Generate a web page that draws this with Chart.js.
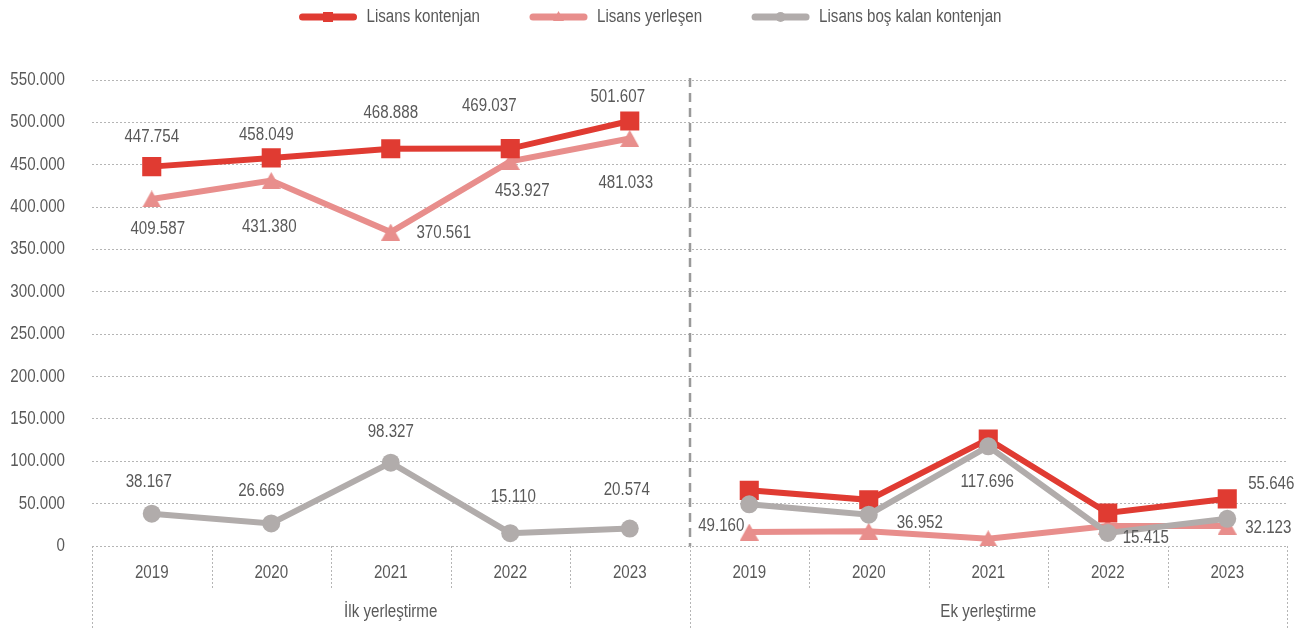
<!DOCTYPE html>
<html>
<head>
<meta charset="utf-8">
<script src="https://cdn.jsdelivr.net/npm/chart.js@4"></script>
<style>
  body { margin: 0; background: #fff; }
  #wrap { width: 1301px; height: 628px; position: relative; }
</style>
</head>
<body>
<div id="wrap"><canvas id="myChart"></canvas></div>
<script>
'use strict';

// DATA
let years = ['2019', '2020', '2021', '2022', '2023', '2019', '2020', '2021', '2022', '2023'];
let groups = ['İlk yerleştirme', 'Ek yerleştirme'];
let kontenjan = [447754, 458049, 468888, 469037, 501607, 65700, 54500, 126200, 39000, 55646];
let yerlesen = [409587, 431380, 370561, 453927, 481033, 16500, 17500, 8500, 23600, 23523];
let bosKalan = [38167, 26669, 98327, 15110, 20574, 49160, 36952, 117696, 15415, 32123];
let yTicks = [0, 50000, 100000, 150000, 200000, 250000, 300000, 350000, 400000, 450000, 500000, 550000];

const FONT = "'Liberation Sans', Arial, sans-serif";
const TEXT = '#595959';
const RED = '#e03b32';
const PINK = '#e88e8c';
const GRAY = '#b1acab';
const NARROW = 0.84; // the original uses a narrow face

function fmt(v) {
  return Math.round(v).toString().replace(/\B(?=(\d{3})+(?!\d))/g, '.');
}

// narrow text: normal face squeezed sideways
function drawText(ctx, text, x, y, align) {
  ctx.save();
  ctx.translate(x, y);
  ctx.scale(NARROW, 1);
  ctx.font = '18px ' + FONT;
  ctx.fillStyle = TEXT;
  ctx.textAlign = align || 'center';
  ctx.textBaseline = 'middle';
  ctx.fillText(text, 0, 0);
  ctx.restore();
}

// triangle centred on its box, like the original markers
function makeTriangle(w, h, color) {
  const c = document.createElement('canvas');
  c.width = w;
  c.height = h;
  const g = c.getContext('2d');
  g.fillStyle = color;
  g.beginPath();
  g.moveTo(w / 2, 0);
  g.lineTo(w, h);
  g.lineTo(0, h);
  g.closePath();
  g.fill();
  return c;
}

// label offsets from the point, null = no label
const labelOffsets = [
  [[0, -30], [-5, -23], [0, -36], [-21, -43], [-12, -24], null, null, null, null, [44, -15]],
  [[6, 30], [-2, 47], [53, 1], [12, 30], [-4, 45], null, null, null, null, null],
  [[-3, -32], [-10, -32], [0, -31], [3, -36], [-3, -39], [-28, 22], [51, 8], [-1, 36], [38, 5], [41, 9]]
];

// break the line between the two groups
const noJoin = ctx => ctx.p0DataIndex === 4 ? 'rgba(0,0,0,0)' : undefined;

const valueLabels = {
  id: 'valueLabels',
  afterDatasetsDraw(chart) {
    chart.data.datasets.forEach((ds, d) => {
      const meta = chart.getDatasetMeta(d);
      meta.data.forEach((pt, i) => {
        const off = labelOffsets[d][i];
        if (!off) return;
        drawText(chart.ctx, fmt(ds.data[i]), pt.x + off[0], pt.y + off[1]);
      });
    });
  }
};

const decor = {
  id: 'decor',
  afterDraw(chart) {
    const ctx = chart.ctx;
    const area = chart.chartArea;
    const step = (area.right - area.left) / years.length;
    ctx.save();
    // dotted separators under the axis
    ctx.strokeStyle = '#b5b5b5';
    ctx.lineWidth = 1;
    ctx.setLineDash([2, 2]);
    for (let k = 0; k <= years.length; k++) {
      const x = Math.round(area.left + k * step) + 0.5;
      const bottom = (k % 5 === 0) ? chart.height : area.bottom + 42;
      ctx.beginPath();
      ctx.moveTo(x, area.bottom);
      ctx.lineTo(x, bottom);
      ctx.stroke();
    }
    // dashed split between groups
    const mid = Math.round(area.left + 5 * step);
    ctx.strokeStyle = '#9a9a9a';
    ctx.lineWidth = 2.5;
    ctx.setLineDash([9, 6]);
    ctx.beginPath();
    ctx.moveTo(mid, area.top - 2);
    ctx.lineTo(mid, area.bottom);
    ctx.stroke();
    ctx.restore();

    // tick labels
    const xs = chart.scales.x;
    years.forEach((y, i) => drawText(ctx, y, xs.getPixelForValue(i), area.bottom + 27));
    const ys = chart.scales.y;
    yTicks.forEach(v => drawText(ctx, fmt(v), area.left - 27, ys.getPixelForValue(v), 'right'));
    // group names
    groups.forEach((g, i) => drawText(ctx, g, area.left + (i * 5 + 2.5) * step, 612));
  }
};

const lineLegend = {
  id: 'lineLegend',
  afterDraw(chart) {
    const ctx = chart.ctx;
    const sets = chart.data.datasets;
    ctx.save();
    ctx.font = '18px ' + FONT;
    const lineW = 57, gapText = 10, gapItem = 50;
    let total = 0;
    sets.forEach((ds, i) => {
      total += lineW + gapText + ctx.measureText(ds.label).width * NARROW;
      if (i > 0) total += gapItem;
    });
    let x = (chart.width - total) / 2;
    const y = 17;
    sets.forEach(ds => {
      ctx.strokeStyle = ds.borderColor;
      ctx.lineWidth = 7;
      ctx.lineCap = 'round';
      ctx.beginPath();
      ctx.moveTo(x + 3, y);
      ctx.lineTo(x + lineW - 3, y);
      ctx.stroke();
      ctx.fillStyle = ds.borderColor;
      const cx = x + lineW / 2;
      if (ds.pointStyle === 'rect') {
        ctx.fillRect(cx - 5, y - 5, 10, 10);
      } else if (ds.pointStyle === 'circle') {
        ctx.beginPath();
        ctx.arc(cx, y, 5, 0, Math.PI * 2);
        ctx.fill();
      } else {
        ctx.beginPath();
        ctx.moveTo(cx, y - 6);
        ctx.lineTo(cx + 5.5, y + 4);
        ctx.lineTo(cx - 5.5, y + 4);
        ctx.closePath();
        ctx.fill();
      }
      drawText(ctx, ds.label, x + lineW + gapText, y, 'left');
      x += lineW + gapText + ctx.measureText(ds.label).width * NARROW + gapItem;
    });
    ctx.restore();
  }
};

const ctx = document.getElementById('myChart');
const myChart = new Chart(ctx, {
  type: 'line',
  data: {
    labels: years,
    datasets: [{
      label: 'Lisans kontenjan',
      data: kontenjan,
      borderColor: RED,
      backgroundColor: RED,
      pointStyle: 'rect',
      pointRadius: 13.5,
      pointBorderWidth: 0,
      borderWidth: 6,
      order: 1,
      segment: { borderColor: noJoin }
    },
    {
      label: 'Lisans yerleşen',
      data: yerlesen,
      borderColor: PINK,
      backgroundColor: PINK,
      pointStyle: makeTriangle(19, 17, PINK),
      pointRadius: 10,
      pointBorderWidth: 0,
      borderWidth: 6,
      order: 2,
      segment: { borderColor: noJoin }
    },
    {
      label: 'Lisans boş kalan kontenjan',
      data: bosKalan,
      borderColor: GRAY,
      backgroundColor: GRAY,
      pointStyle: 'circle',
      pointRadius: 9,
      pointBorderWidth: 0,
      borderWidth: 6,
      order: 0,
      segment: { borderColor: noJoin }
    }]
  },
  options: {
    responsive: true,
    maintainAspectRatio: false,
    animation: false,
    layout: { padding: { top: 80, right: 14, bottom: 0, left: 0 } },
    plugins: {
      legend: { display: false },
      tooltip: { enabled: false }
    },
    scales: {
      x: {
        offset: true,
        grid: { display: false },
        border: { display: false },
        ticks: { display: false },
        afterFit: scale => { scale.height = 82; }
      },
      y: {
        min: 0,
        max: 550000,
        afterBuildTicks: scale => { scale.ticks = yTicks.map(v => ({ value: v })); },
        grid: { color: '#b5b5b5', lineWidth: 1, drawTicks: false },
        border: { display: false, dash: [2, 2] },
        ticks: { display: false },
        afterFit: scale => { scale.width = 92; }
      }
    }
  },
  plugins: [valueLabels, decor, lineLegend]
});
</script>
</body>
</html>
